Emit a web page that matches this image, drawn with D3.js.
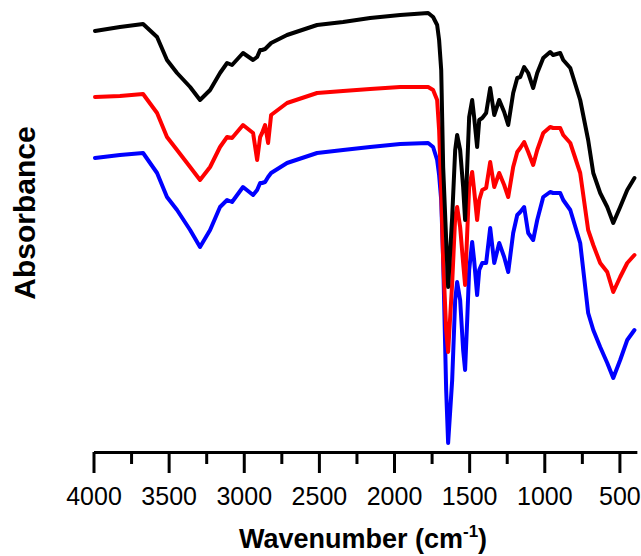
<!DOCTYPE html>
<html>
<head>
<meta charset="utf-8">
<script src="https://cdn.jsdelivr.net/npm/d3@7"></script>
<style>
  body { margin: 0; background: #fff; }
  svg { display: block; }
</style>
</head>
<body>
<svg width="641" height="556"></svg>
<script>
// wavenumbers (cm-1) shared by the three spectra
var wavenumbers = [
  3990,3824,3670,3577,3511,3444,3357,3291,3224,3158,
  3111,3078,3005,2938,2911,2891,2878,2858,2838,2818,
  2712,2512,2339,2159,1959,1773,1740,1713,1700,1686,
  1673,1653,1640,1613,1593,1580,1560,1540,1527,1513,
  1500,1480,1467,1447,1433,1413,1387,1360,1333,1300,
  1267,1240,1207,1180,1160,1134,1107,1074,1047,1007,
  961,941,894,874,827,761,708,674,628,581,
  541,495,448,400
];

// stacked spectra, arbitrary units (offsets included)
var blackSeries = [
  107.25,108.25,109,105.75,100,96.75,93.25,90,92.5,96.75,
  99.25,98.75,101.75,100,100.75,102.5,102.5,102.75,103.5,104.25,
  106.25,108.75,109.5,110.5,111.25,111.75,110.75,108.75,105,97.5,
  73.25,55,43.25,60.75,77.5,81.25,77.5,68.25,60,73.25,
  85.75,90,85.75,78.25,85,85.5,86.75,93,86.25,90,
  87,83.75,91.75,95.5,95.75,98.25,96.75,93,96.75,100.5,
  102,101.25,101.75,100,98,90,80,71.75,66.75,63.25,
  59.25,63.25,67.5,70.5
];
var redSeries = [
  90.75,91,91.5,86.75,80.75,77.5,73.25,70,73.25,78.25,
  80.75,80.5,83.75,81.75,75,80.75,81.75,83.75,79.25,86.25,
  89.25,91.75,92.25,92.75,93.25,93.25,92.5,90,82.5,67.5,
  50,32.5,27,44.25,60.75,63.25,58.25,49.25,43.75,56.75,
  68.25,72,67.5,60,65,67.5,68,74.5,68.25,71.75,
  68.75,65.75,73.25,77,78,79.5,77,73.75,77.5,81.75,
  83.25,83,83,81.25,79.25,71.75,57.5,53.75,49.25,47,
  42,45.75,49.25,51.25
];
var blueSeries = [
  75.5,76.25,76.75,71.75,65.75,62.5,57.5,53.25,57.5,63.25,
  65,64.5,68.25,66.25,67.5,69.25,69.25,69.5,70.75,71.75,
  74.25,76.75,77.5,78.25,79,79.25,78.25,75,71.25,65,
  50,17.5,4.25,20,40,44.5,40,27.5,22.5,35,
  47.5,54.5,50,41.25,47.5,49.25,49.25,58,49.25,54.25,
  50.75,47,56.75,61.25,62,63.25,56.75,55,60,65.75,
  67,66.75,66.75,65,62.5,54.25,36.75,32.5,28.25,24.25,
  20.5,25,30,32.5
];

var majorTicks = [4000,3500,3000,2500,2000,1500,1000,500];
var minorTicks = [3750,3250,2750,2250,1750,1250,750];

var svg = d3.select("svg");

var x = d3.scaleLinear().domain([4000, 385]).range([93.5, 636.7]);
var y = d3.scaleLinear().domain([0, 115]).range([460, 0]);

var series = [
  {name: "blue", color: "#0000ff", values: blueSeries},
  {name: "red", color: "#ff0000", values: redSeries},
  {name: "black", color: "#000000", values: blackSeries}
];

var line = d3.line()
    .x(function(d) { return x(d[0]); })
    .y(function(d) { return y(d[1]); });

svg.append("g")
    .selectAll("path")
    .data(series)
    .enter().append("path")
    .attr("d", function(s) { return line(d3.zip(wavenumbers, s.values)); })
    .attr("fill", "none")
    .attr("stroke", function(s) { return s.color; })
    .attr("stroke-width", 4)
    .attr("stroke-linejoin", "round")
    .attr("stroke-linecap", "round");

// minor ticks first, then the major axis with labels
var minorAxis = svg.append("g")
    .attr("transform", "translate(0,452)")
    .call(d3.axisBottom(x).tickValues(minorTicks).tickSize(12).tickSizeOuter(0).tickFormat(""));

var xAxis = svg.append("g")
    .attr("transform", "translate(0,452)")
    .call(d3.axisBottom(x).tickValues(majorTicks).tickSize(21).tickSizeOuter(0).tickPadding(14).tickFormat(d3.format("d")));

svg.selectAll(".domain, .tick line")
    .attr("stroke", "#000")
    .attr("stroke-width", 3);

xAxis.selectAll("text")
    .attr("fill", "#000")
    .style("font-family", "Arial, 'Liberation Sans', sans-serif")
    .style("font-size", "25px");

var xTitle = svg.append("text")
    .attr("x", 363)
    .attr("y", 548)
    .attr("text-anchor", "middle")
    .style("font-family", "Arial, 'Liberation Sans', sans-serif")
    .style("font-size", "27px")
    .style("font-weight", "bold");
xTitle.append("tspan").text("Wavenumber (cm");
xTitle.append("tspan").attr("dy", -11).style("font-size", "17px").text("-1");
xTitle.append("tspan").attr("dy", 11).text(")");

svg.append("text")
    .attr("transform", "translate(35,213) rotate(-90)")
    .attr("text-anchor", "middle")
    .style("font-family", "Arial, 'Liberation Sans', sans-serif")
    .style("font-size", "30px")
    .style("font-weight", "bold")
    .text("Absorbance");
</script>
</body>
</html>
